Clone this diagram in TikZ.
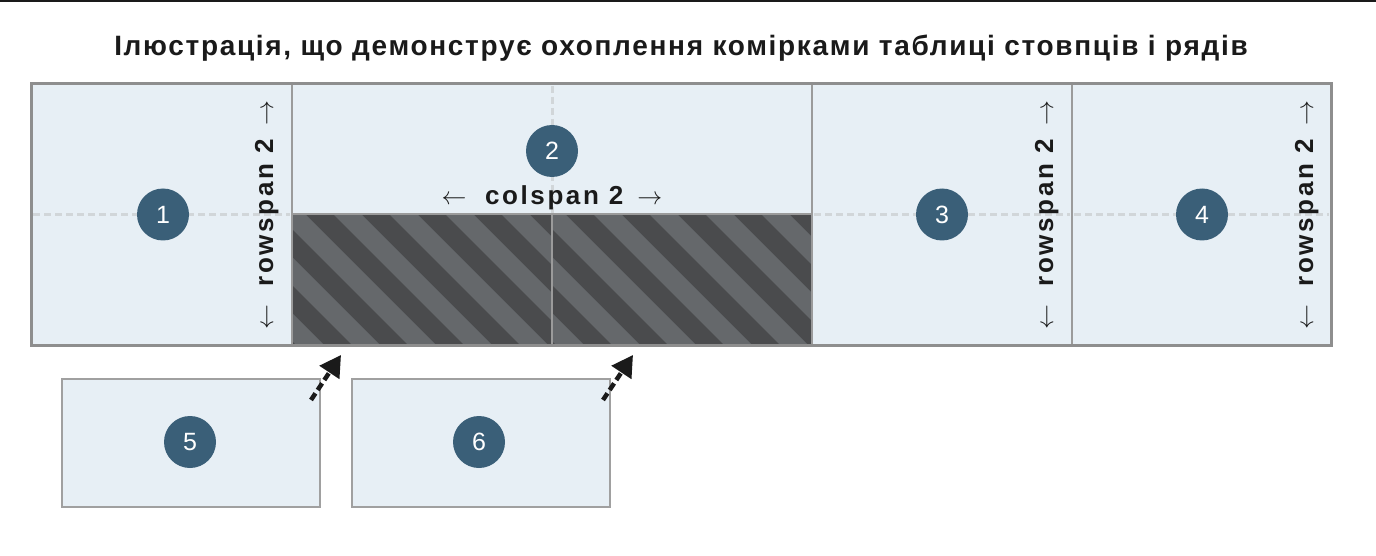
\documentclass[tikz,border=0pt]{standalone}
\usepackage{fontspec}
\setmainfont{Liberation Sans}
\newfontfamily\ttlfont{Liberation Sans}[LetterSpace=6]
\newfontfamily\lblfont{Liberation Sans}[LetterSpace=10]
\usetikzlibrary{arrows.meta}
\definecolor{cellfill}{HTML}{E7EFF5}
\definecolor{outerline}{HTML}{8E8E8E}
\definecolor{innerline}{HTML}{9B9B9B}
\definecolor{guide}{HTML}{D1D6D9}
\definecolor{hatchdark}{HTML}{4A4B4D}
\definecolor{hatchlight}{HTML}{65686B}
\definecolor{badgecol}{HTML}{3A5F78}
\definecolor{inkcol}{HTML}{1A1A1A}
\definecolor{boxline}{HTML}{A0A0A0}
\begin{document}
\begin{tikzpicture}[x=1pt,y=-1pt,
  cellbox/.style={rectangle,fill=cellfill,inner sep=0pt,outer sep=0pt,anchor=north west},
  hatchbox/.style={rectangle,fill=hatchdark,inner sep=0pt,outer sep=0pt,anchor=north west,minimum width=260pt,minimum height=131pt},
  stripe/.style={hatchlight,line width=19.8pt},
  guideline/.style={guide,line width=3pt,dash pattern=on 7pt off 4pt},
  gridline/.style={innerline,line width=2pt},
  badge/.style={circle,fill=badgecol,text=white,minimum size=52pt,inner sep=0pt,font=\fontsize{25}{30}\selectfont},
  spanlabel/.style={text=inkcol,inner sep=0pt,font=\lblfont\bfseries\fontsize{26}{30}\selectfont},
  extrabox/.style={rectangle,draw=boxline,line width=2pt,fill=cellfill,inner sep=0pt,anchor=north west,minimum width=258pt,minimum height=128pt},
  dasharrow/.style={inkcol,line width=4.5pt,dash pattern=on 8pt off 4pt,-{Triangle[length=21pt,width=23pt]}}
]
\useasboundingbox (0,0) rectangle (1376,556);
\fill[white] (0,0) rectangle (1376,556);
\draw[inkcol,line width=2pt] (0,1) -- (1376,1);

% title
\node[anchor=base,text=inkcol,inner sep=0pt,font=\ttlfont\bfseries\fontsize{28}{32}\selectfont] (title) at (681,56)
  {Ілюстрація, що демонструє охоплення комірками таблиці стовпців і рядів};

% cell backgrounds
\node[cellbox,minimum width=261pt,minimum height=261pt] (c1) at (31,84) {};
\node[cellbox,minimum width=520pt,minimum height=130pt] (c2) at (292,84) {};
\node[cellbox,minimum width=260pt,minimum height=261pt] (c3) at (812,84) {};
\node[cellbox,minimum width=259pt,minimum height=261pt] (c4) at (1072,84) {};

% hatched cells
\node[hatchbox] (h1) at (292,214) {};
\node[hatchbox] (h2) at (552,214) {};
\begin{scope}
  \clip (292,214) rectangle (552,345);
  \foreach \k in {-3,...,6}
    \draw[stripe] ({292+56*\k-150},{215-150}) -- ({292+56*\k+300},{215+300});
\end{scope}
\begin{scope}
  \clip (552,214) rectangle (812,345);
  \foreach \k in {-3,...,6}
    \draw[stripe] ({552+56*\k-150},{215-150}) -- ({552+56*\k+300},{215+300});
\end{scope}

% guide lines
\draw[guideline] (33,214.5) -- (290,214.5);
\draw[guideline] (814,214.5) -- (1070,214.5);
\draw[guideline] (1074,214.5) -- (1329,214.5);
\draw[guideline] (552.5,86) -- (552.5,213);

% grid lines
\draw[gridline] (292,84) -- (292,345);
\draw[gridline] (552,214) -- (552,345);
\draw[gridline] (812,84) -- (812,345);
\draw[gridline] (1072,84) -- (1072,345);
\draw[gridline] (292,214) -- (812,214);
\draw[outerline,line width=3pt] (31,84) rectangle (1331,345);

% badges
\node[badge] (b1) at (163,214.5) {1};
\node[badge] (b2) at (552,151) {2};
\node[badge] (b3) at (942,214.5) {3};
\node[badge] (b4) at (1202,214.5) {4};

% span labels
\node[spanlabel,anchor=base] (l2) at (552,205) {$\leftarrow$\,\, colspan 2 \,$\rightarrow$};
\node[spanlabel,anchor=base,rotate=90] (l1) at (273,215) {$\leftarrow$\,\, rowspan 2 \,$\rightarrow$};
\node[spanlabel,anchor=base,rotate=90] (l3) at (1053,215) {$\leftarrow$\,\, rowspan 2 \,$\rightarrow$};
\node[spanlabel,anchor=base,rotate=90] (l4) at (1313,215) {$\leftarrow$\,\, rowspan 2 \,$\rightarrow$};

% extra cells
\node[extrabox] (e5) at (61,378) {};
\node[extrabox] (e6) at (351,378) {};
\node[badge] (b5) at (190,442) {5};
\node[badge] (b6) at (479,442) {6};

% arrows
\coordinate (t5) at (311,400);
\coordinate (p5) at (341,355);
\coordinate (t6) at (603,400);
\coordinate (p6) at (633,355);
\draw[dasharrow] (t5) -- (p5);
\draw[dasharrow] (t6) -- (p6);
\end{tikzpicture}
\end{document}
